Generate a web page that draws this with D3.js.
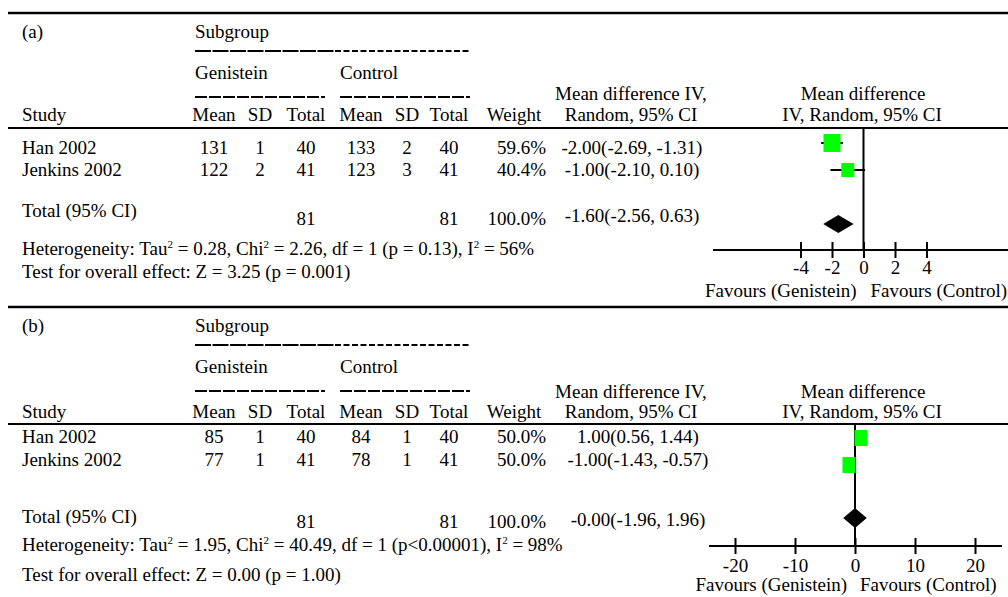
<!DOCTYPE html>
<html><head><meta charset="utf-8">
<script src="https://cdn.jsdelivr.net/npm/d3@7"></script>
<style>
body{margin:0;background:#fff}
svg{display:block}
text{font-family:"Liberation Serif","Times New Roman",serif;font-size:19px;fill:#000}
</style>
</head><body><svg id="c" width="1008" height="597"></svg>
<script>
// ---------- DATA ----------
const studies = ["Han 2002", "Jenkins 2002"];
const colHeaders = ["Mean", "SD", "Total", "Mean", "SD", "Total"];

// panel (a)
const aGenMean = [131, 122], aGenSD = [1, 2], aGenN = [40, 41];
const aCtlMean = [133, 123], aCtlSD = [2, 3], aCtlN = [40, 41];
const aWeight = ["59.6%", "40.4%"];
const aMD = [-2.00, -1.00], aLo = [-2.69, -2.10], aHi = [-1.31, 0.10];
const aCILabels = ["-2.00(-2.69, -1.31)", "-1.00(-2.10, 0.10)"];
const aTotalN = [81, 81];
const aTotalWeight = "100.0%";
const aTotalLabel = "-1.60(-2.56, 0.63)";
const aDiamond = [-2.56, -1.60, -0.63];   // lo, est, hi as drawn
const aTicks = [-4, -2, 0, 2, 4];
const aHet = [["Heterogeneity: Tau"], ["2", 1], [" = 0.28, Chi"], ["2", 1], [" = 2.26, df = 1 (p = 0.13), I"], ["2", 1], [" = 56%"]];
const aTest = "Test for overall effect: Z = 3.25 (p = 0.001)";

// panel (b)
const bGenMean = [85, 77], bGenSD = [1, 1], bGenN = [40, 41];
const bCtlMean = [84, 78], bCtlSD = [1, 1], bCtlN = [40, 41];
const bWeight = ["50.0%", "50.0%"];
const bMD = [1.00, -1.00], bLo = [0.56, -1.43], bHi = [1.44, -0.57];
const bCILabels = ["1.00(0.56, 1.44)", "-1.00(-1.43, -0.57)"];
const bTotalN = [81, 81];
const bTotalWeight = "100.0%";
const bTotalLabel = "-0.00(-1.96, 1.96)";
const bDiamond = [-1.96, 0.00, 1.96];
const bTicks = [-20, -10, 0, 10, 20];
const bHet = [["Heterogeneity: Tau"], ["2", 1], [" = 1.95, Chi"], ["2", 1], [" = 40.49, df = 1 (p<0.00001), I"], ["2", 1], [" = 98%"]];
const bTest = "Test for overall effect: Z = 0.00 (p = 1.00)";

// ---------- DRAW ----------
const svg = d3.select("#c");
svg.append("rect").attr("width", 1008).attr("height", 597).attr("fill", "#fff");

const colX = [214, 260, 306, 361, 407, 449];
const leftX = 22;

function hline(g, x1, x2, y, w, dash) {
  const l = g.append("line").attr("x1", x1).attr("x2", x2).attr("y1", y).attr("y2", y)
    .attr("stroke", "#000").attr("stroke-width", w);
  if (dash) l.attr("stroke-dasharray", dash);
  return l;
}
function txt(g, x, y, s, anchor) {
  return g.append("text").attr("x", x).attr("y", y).attr("text-anchor", anchor || "start").text(s);
}
function richText(g, x, y, parts) {
  const t = g.append("text").attr("x", x).attr("y", y);
  let up = false;
  parts.forEach(p => {
    const ts = t.append("tspan").text(p[0]);
    if (p[1]) { ts.attr("font-size", "11px").attr("dy", -7); up = true; }
    else if (up) { ts.attr("dy", 7); up = false; }
  });
  return t;
}

function panel(c) {
  const L = c.L;
  const g = svg.append("g");
  hline(g, 8, 1008, L.top, 2.5);
  txt(g, leftX, L.label, c.tag);
  txt(g, 195, L.label, "Subgroup");
  hline(g, 195, 335, L.sgLine, 2, "16,1.5");
  hline(g, 335, 470, L.sgLine, 2, "6,2.5");
  txt(g, 195, L.grp, "Genistein");
  txt(g, 340, L.grp, "Control");
  hline(g, 195, 325, L.grpLine, 2, "12,2");
  hline(g, 340, 470, L.grpLine, 2, "12,2");
  txt(g, leftX, L.hdr, "Study");
  colHeaders.forEach((h, i) => txt(g, colX[i], L.hdr, h, "middle"));
  txt(g, 514, L.hdr, "Weight", "middle");
  txt(g, 631, L.md1, "Mean difference IV,", "middle");
  txt(g, 631, L.hdr, "Random, 95% CI", "middle");
  txt(g, 863, L.md1, "Mean difference", "middle");
  txt(g, 862, L.hdr, "IV, Random, 95% CI", "middle");
  hline(g, 8, 1008, L.hdrLine, 2);

  // rows
  studies.forEach((s, i) => {
    const y = L.rows[i];
    txt(g, leftX, y, s);
    [c.gm[i], c.gs[i], c.gn[i], c.cm[i], c.cs[i], c.cn[i]].forEach((v, j) => txt(g, colX[j], y, v, "middle"));
    txt(g, 546, y, c.w[i], "end");
    txt(g, c.ciX, y, c.ciL[i], "middle");
  });
  txt(g, leftX, L.totLabel, "Total (95% CI)");
  txt(g, colX[2], L.totNum, c.tn[0], "middle");
  txt(g, colX[5], L.totNum, c.tn[1], "middle");
  txt(g, 546, L.totNum, c.tw, "end");
  txt(g, c.ciX, L.totCI, c.tl, "middle");
  richText(g, leftX, L.het, c.het);
  txt(g, leftX, L.test, c.test);

  // forest plot
  const x = d3.scaleLinear().domain(c.domain).range(c.range);
  g.append("line").attr("x1", x(0)).attr("x2", x(0)).attr("y1", L.hdrLine).attr("y2", L.axisY)
    .attr("stroke", "#000").attr("stroke-width", 2);
  const ax = g.append("g").attr("transform", `translate(0,${L.axisY})`)
    .call(d3.axisBottom(x).tickValues(c.ticks).tickSize(8).tickFormat(d3.format("d")));
  ax.select(".domain").remove();
  ax.selectAll(".tick line").attr("y1", -8).attr("y2", 8).attr("stroke-width", 2).attr("stroke", "#000");
  ax.selectAll(".tick text").attr("y", L.tickLbl - L.axisY).attr("dy", 0)
    .attr("font-family", null).attr("font-size", null).attr("fill", "#000")
    .text(d => (d < 0 ? "-" + Math.abs(d) : d));
  hline(g, c.axisX[0], c.axisX[1], L.axisY, 2);
  txt(g, x(0) - c.favGap[0], L.fav, "Favours (Genistein)", "end");
  txt(g, x(0) + c.favGap[1], L.fav, "Favours (Control)", "start");

  studies.forEach((s, i) => {
    const y = L.marks[i];
    g.append("line").attr("x1", x(c.lo[i])).attr("x2", x(c.hi[i])).attr("y1", y).attr("y2", y)
      .attr("stroke", "#000").attr("stroke-width", 2);
    const sz = c.sq[i];
    g.append("rect").attr("x", x(c.md[i]) - sz[0] / 2).attr("y", y - sz[1] / 2)
      .attr("width", sz[0]).attr("height", sz[1]).attr("fill", "#00ff00");
  });
  const d = c.dia, dy = L.diaY, hh = L.diaH;
  g.append("path").attr("d", `M${x(d[0])},${dy}L${x(d[1])},${dy - hh}L${x(d[2])},${dy}L${x(d[1])},${dy + hh}Z`)
    .attr("fill", "#000");
}

panel({
  tag: "(a)",
  gm: aGenMean, gs: aGenSD, gn: aGenN, cm: aCtlMean, cs: aCtlSD, cn: aCtlN,
  w: aWeight, md: aMD, lo: aLo, hi: aHi, ciL: aCILabels, tn: aTotalN, tw: aTotalWeight, tl: aTotalLabel,
  dia: aDiamond, ticks: aTicks, het: aHet, test: aTest,
  domain: [-4, 4], range: [800.5, 926.5], axisX: [713, 1008], favGap: [7, 7],
  ciX: 632, sq: [[17, 18], [13, 14]],
  L: { top: 13, label: 38, sgLine: 51, grp: 79, grpLine: 97, hdr: 121, md1: 100, hdrLine: 128,
       rows: [154, 176], marks: [143, 170], totLabel: 217, totNum: 225, totCI: 222, het: 255, test: 278,
       axisY: 250, tickLbl: 274, fav: 297, diaY: 224, diaH: 9 }
});
panel({
  tag: "(b)",
  gm: bGenMean, gs: bGenSD, gn: bGenN, cm: bCtlMean, cs: bCtlSD, cn: bCtlN,
  w: bWeight, md: bMD, lo: bLo, hi: bHi, ciL: bCILabels, tn: bTotalN, tw: bTotalWeight, tl: bTotalLabel,
  dia: bDiamond, ticks: bTicks, het: bHet, test: bTest,
  domain: [-20, 20], range: [735, 975], axisX: [709, 1002], favGap: [8, 5],
  ciX: 638, sq: [[13, 16], [13, 16]],
  L: { top: 307, label: 332, sgLine: 345, grp: 373, grpLine: 391, hdr: 418, md1: 398, hdrLine: 424,
       rows: [443, 466], marks: [438, 465], totLabel: 523, totNum: 528, totCI: 526, het: 551, test: 581,
       axisY: 546, tickLbl: 572, fav: 591, diaY: 518, diaH: 10 }
});
</script>
</body></html>
